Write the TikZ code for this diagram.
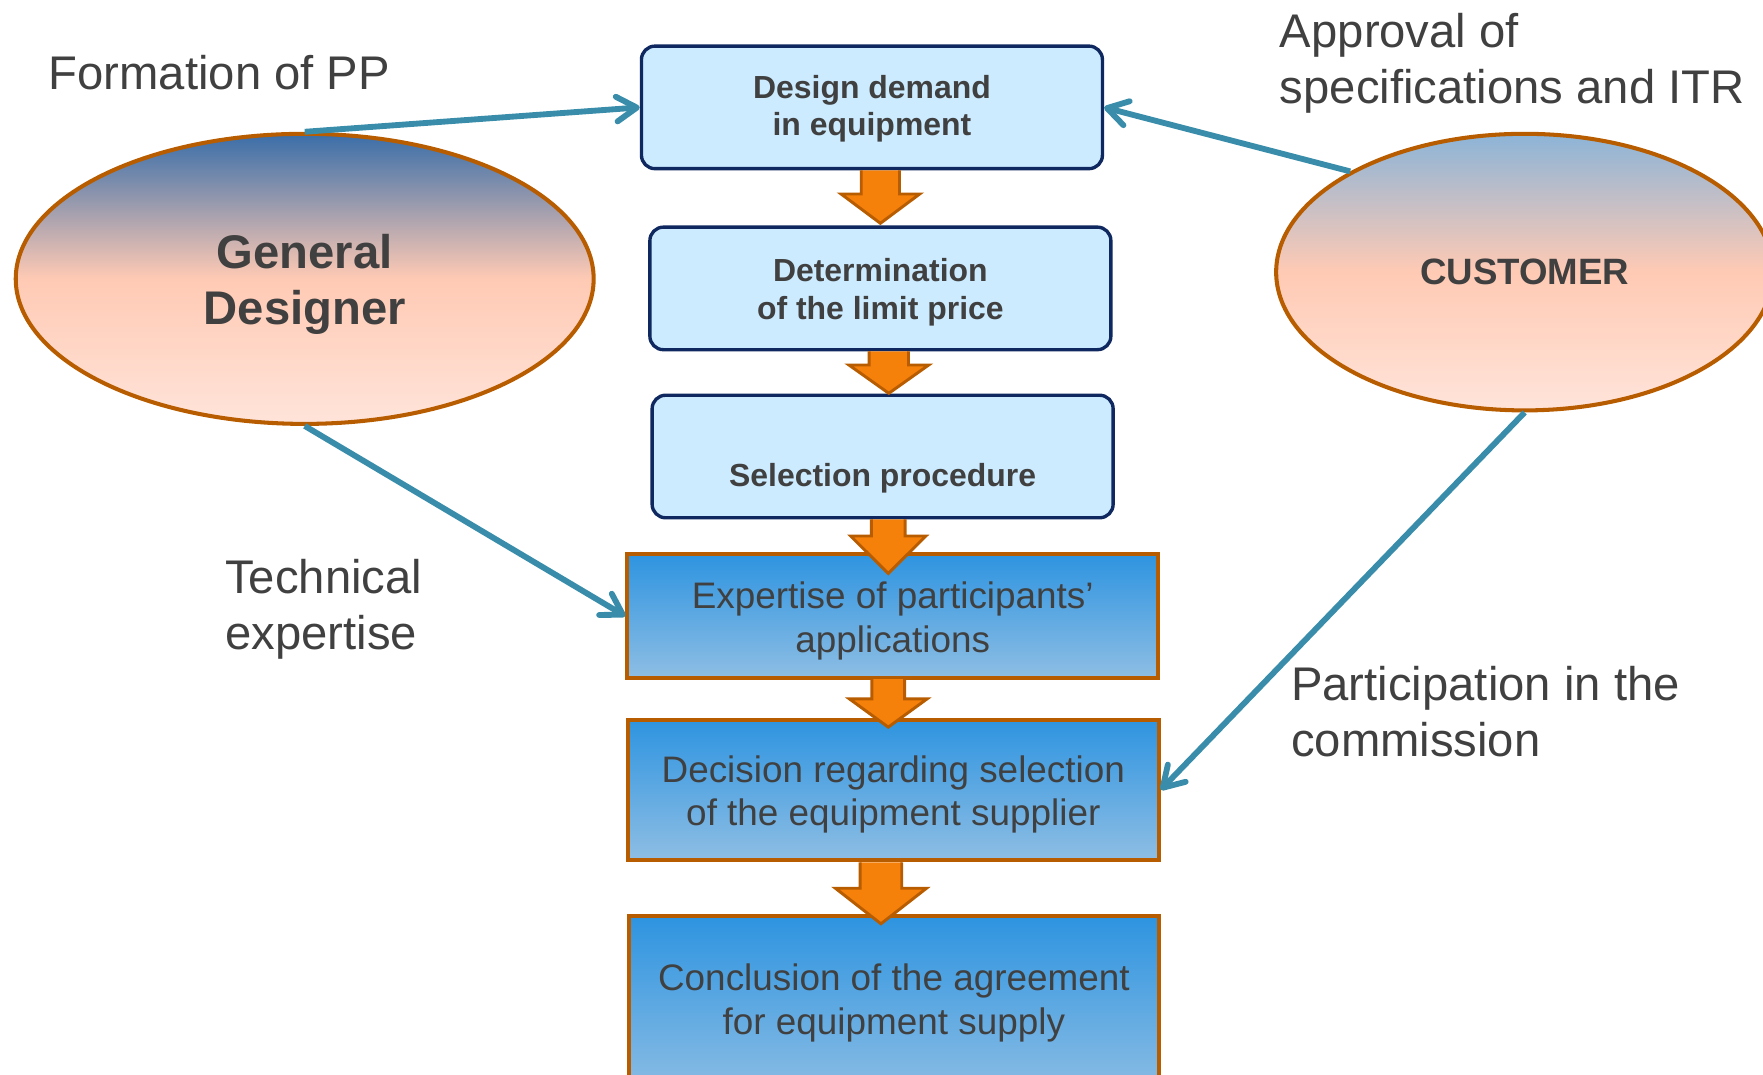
\documentclass[tikz,border=0pt]{standalone}
\usepackage{fontspec}
\setmainfont{Liberation Sans}
\usetikzlibrary{arrows.meta,shapes.geometric}
\definecolor{txt}{RGB}{64,64,64}
\definecolor{teal1}{RGB}{58,141,170}
\definecolor{obrd}{RGB}{184,92,0}
\definecolor{ofill}{RGB}{245,128,10}
\definecolor{lbfill}{RGB}{204,235,255}
\definecolor{navy}{RGB}{16,40,96}
\definecolor{btop}{RGB}{46,148,224}
\definecolor{bbot}{RGB}{142,190,228}
\definecolor{gdtop}{RGB}{58,110,168}
\definecolor{cutop}{RGB}{140,180,215}
\definecolor{peach}{RGB}{255,202,180}
\definecolor{peachl}{RGB}{255,228,218}
% block arrow: centre x, top y, head y, tip y, half shaft, half head
\newcommand\orarrow[6]{%
  \fill[ofill] ({#1-#5},#2) -- ({#1+#5},#2) -- ({#1+#5},#3) -- ({#1+#6},#3) -- (#1,#4) -- ({#1-#6},#3) -- ({#1-#5},#3) -- cycle;
  \draw[blockedge] ({#1+#5},#2) -- ({#1+#5},#3) -- ({#1+#6},#3) -- (#1,#4) -- ({#1-#6},#3) -- ({#1-#5},#3) -- ({#1-#5},#2);}
\begin{document}
\begin{tikzpicture}[x=0.5pt,y=-0.5pt,
  lightbox/.style={draw=navy, line width=1.5pt, fill=lbfill, rounded corners=6pt,
    minimum width=205pt, minimum height=54.5pt, inner sep=0pt, align=center, text=txt,
    font=\fontsize{14.2}{16.5}\selectfont\bfseries},
  bluebox/.style={draw=obrd, line width=1.8pt, top color=btop, bottom color=bbot,
    minimum width=236pt, inner sep=0pt, align=center, text=txt,
    font=\fontsize{16.4}{19.5}\selectfont},
  actor/.style={ellipse, draw=obrd, line width=1.8pt, inner sep=0pt, align=center, text=txt},
  link/.style={draw=teal1, line width=2.6pt, -{Straight Barb[length=9pt,width=11pt,round]}},
  lbl/.style={text=txt, font=\fontsize{21}{25}\selectfont, align=left, inner sep=0pt},
  blockedge/.style={draw=obrd, line width=1.3pt, line join=miter}
]
\useasboundingbox (0,0) rectangle (1568,955.2);

% actors
\node[actor, minimum width=257pt, minimum height=129pt, top color=gdtop, bottom color=peachl, middle color=peach,
  font=\fontsize{21}{25}\selectfont\bfseries, text height=45pt] (gd) at (271,248) {General\\Designer};
\node[actor, minimum width=221pt, minimum height=123pt, top color=cutop, bottom color=peachl, middle color=peach,
  font=\fontsize{16.3}{20}\selectfont\bfseries] (cu) at (1356,242) {CUSTOMER};

% process boxes
\node[lightbox, text height=28pt] (b1) at (775.5,95.5) {Design demand\\in equipment};
\node[lightbox, font=\fontsize{14.2}{17}\selectfont\bfseries, text height=31pt] (b2) at (783,256.5) {Determination\\of the limit price};
\node[lightbox, text height=30pt, text depth=3pt] (b3) at (785,406) {Selection procedure};
\node[bluebox, minimum height=55pt, text height=35.5pt] (b4) at (794,548) {Expertise of participants’\\applications};
\node[bluebox, minimum height=62.5pt, text height=35.5pt] (b5) at (794.5,702.5) {Decision regarding selection\\of the equipment supplier};
\node[bluebox, minimum height=81pt, text depth=7.5pt] (b6) at (795,896) {Conclusion of the agreement\\for equipment supply};

% block arrows
\orarrow{783}{151.5}{172.5}{198.6}{17}{35}
\orarrow{790.5}{312.5}{324.6}{349.8}{17.5}{35.5}
\orarrow{790}{462}{476.7}{510}{15}{33.5}
\orarrow{790}{604}{621.6}{646.7}{14.5}{34.5}
\orarrow{783.5}{767}{790}{821.6}{18.5}{40.5}

% labels
\node[lbl, anchor=base west] (l1) at (43,80) {Formation of PP};
\node[lbl, anchor=base west] (l2) at (1138,92) {Approval of\\specifications and ITR};
\node[lbl, anchor=base west] (l3) at (200,578) {Technical\\expertise};
\node[lbl, anchor=base west] (l4) at (1148,673) {Participation in the\\commission};

% connectors
\draw[link] (gd.north) -- (b1.west);
\draw[link] (cu.150) -- (b1.east);
\draw[link] (gd.south) -- (b4.west);
\draw[link] (cu.south) -- (b5.east);
\end{tikzpicture}
\end{document}
